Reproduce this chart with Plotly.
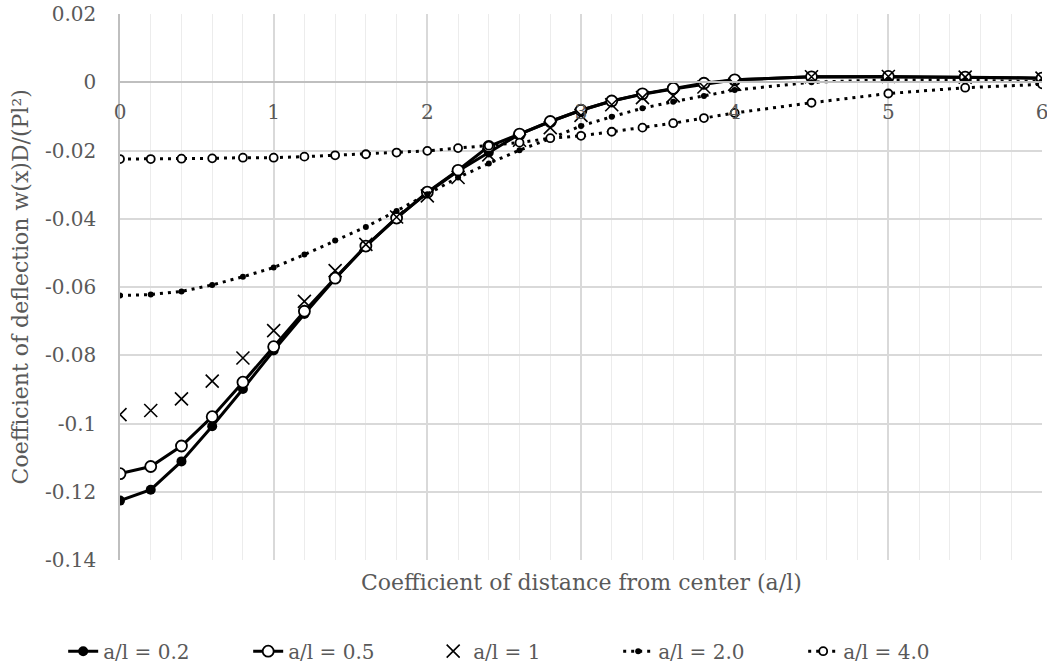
import plotly.graph_objects as go

# Distance coefficient a/l sampled along the plate
x_vals = [0, 0.2, 0.4, 0.6, 0.8, 1.0, 1.2, 1.4, 1.6, 1.8, 2.0, 2.2, 2.4, 2.6, 2.8,
          3.0, 3.2, 3.4, 3.6, 3.8, 4.0, 4.5, 5.0, 5.5, 6.0]

# Deflection coefficients w(x)D/(Pl^2) for each load ratio
w_02 = [-0.1226, -0.1194, -0.1111, -0.1008, -0.0899, -0.0786, -0.0679, -0.0576, -0.0480,
        -0.0397, -0.0324, -0.0260, -0.0206, -0.0152, -0.0115, -0.0082, -0.0055, -0.0035,
        -0.0020, -0.0006, 0.0007, 0.0016, 0.0016, 0.0015, 0.0012]
w_05 = [-0.1147, -0.1126, -0.1066, -0.0980, -0.0879, -0.0775, -0.0671, -0.0574, -0.0480,
        -0.0398, -0.0322, -0.0258, -0.0188, -0.0152, -0.0115, -0.0082, -0.0055, -0.0034,
        -0.0018, -0.0003, 0.0007, 0.0016, 0.0017, 0.0015, 0.0012]
w_1 = [-0.0974, -0.0962, -0.0928, -0.0876, -0.0808, -0.0728, -0.0642, -0.0552, -0.0475,
       -0.0395, -0.0333, -0.0279, -0.0213, -0.0170, -0.0133, -0.0097, -0.0066, -0.0045,
       -0.0040, -0.0014, -0.0006, 0.0016, 0.0017, 0.0015, 0.0012]
w_2 = [-0.0625, -0.0622, -0.0613, -0.0594, -0.0570, -0.0543, -0.0505, -0.0464, -0.0424,
       -0.0377, -0.0328, -0.0279, -0.0238, -0.0199, -0.0165, -0.0128, -0.0101, -0.0076,
       -0.0057, -0.0040, -0.0023, 0.0000, 0.0007, 0.0006, 0.0002]
w_4 = [-0.0225, -0.0225, -0.0224, -0.0223, -0.0221, -0.0221, -0.0218, -0.0214, -0.0211,
       -0.0206, -0.0201, -0.0193, -0.0186, -0.0177, -0.0164, -0.0157, -0.0145, -0.0133,
       -0.0120, -0.0105, -0.0090, -0.0060, -0.0033, -0.0016, -0.0006]

x_ticks = [0, 1, 2, 3, 4, 5, 6]
y_ticks = [0.02, 0, -0.02, -0.04, -0.06, -0.08, -0.1, -0.12, -0.14]
y_ticktext = ["0.02", "0", "-0.02", "-0.04", "-0.06", "-0.08", "-0.1", "-0.12", "-0.14"]

FONT = "DejaVu Serif"
GREY = "#595959"

fig = go.Figure()

fig.add_trace(go.Scatter(
    x=x_vals, y=w_02, name="a/l = 0.2", mode="lines+markers",
    line=dict(color="black", width=3),
    marker=dict(symbol="circle", size=10, color="black"),
))
fig.add_trace(go.Scatter(
    x=x_vals, y=w_05, name="a/l = 0.5", mode="lines+markers",
    line=dict(color="black", width=3),
    marker=dict(symbol="circle", size=11, color="white", line=dict(color="black", width=1.8)),
))
fig.add_trace(go.Scatter(
    x=x_vals, y=w_1, name="a/l = 1", mode="markers",
    marker=dict(symbol="x-thin", size=13, line=dict(color="black", width=1.6)),
))
fig.add_trace(go.Scatter(
    x=x_vals, y=w_2, name="a/l = 2.0", mode="lines+markers",
    line=dict(color="black", width=3, dash="3px,5px"),
    marker=dict(symbol="circle", size=6, color="black"),
))
fig.add_trace(go.Scatter(
    x=x_vals, y=w_4, name="a/l = 4.0", mode="lines+markers",
    line=dict(color="black", width=3, dash="3px,5px"),
    marker=dict(symbol="circle", size=8, color="white", line=dict(color="black", width=1.8)),
))

y_min, y_max = -0.14, 0.02

fig.update_layout(
    width=1047, height=664,
    margin=dict(l=120, r=5, t=14, b=104, autoexpand=False),
    paper_bgcolor="white", plot_bgcolor="white",
    font=dict(family=FONT, size=20, color=GREY),
    showlegend=True,
    legend=dict(
        orientation="h", x=0.44, xanchor="center", y=-0.167, yanchor="middle",
        yref="paper", font=dict(size=20, color=GREY),
        entrywidth=140, entrywidthmode="pixels",
        traceorder="normal",
    ),
    xaxis=dict(
        range=[0, 6], tickvals=x_ticks, ticktext=[str(v) for v in x_ticks],
        anchor="free", position=(0 - y_min) / (y_max - y_min),
        showline=True, linecolor="#bfbfbf", linewidth=1.5,
        ticks="outside", ticklen=12, tickcolor="rgba(0,0,0,0)",
        showgrid=True, gridcolor="#d9d9d9", gridwidth=1.5,
        minor=dict(dtick=0.2, showgrid=True, gridcolor="#ececec", gridwidth=1),
        zeroline=False, tickfont=dict(size=20, color=GREY), automargin=False,
        ticklabeloverflow="allow",
    ),
    yaxis=dict(
        range=[y_min, y_max], tickvals=y_ticks, ticktext=y_ticktext,
        showline=True, linecolor="#bfbfbf", linewidth=1.5,
        showgrid=True, gridcolor="#d9d9d9", gridwidth=1.5,
        zeroline=False, ticks="outside", ticklen=18, tickcolor="rgba(0,0,0,0)",
        tickfont=dict(size=20, color=GREY), automargin=False,
    ),
    annotations=[
        dict(text="Coefficient of distance from center (a/l)", xref="paper", yref="paper",
             x=0.5, y=-0.042, xanchor="center", yanchor="middle", showarrow=False,
             font=dict(size=22, color=GREY)),
        dict(text="Coefficient of deflection w(x)D/(Pl²)", xref="paper", yref="paper",
             x=-0.108, y=0.5, xanchor="center", yanchor="middle", textangle=-90,
             showarrow=False, font=dict(size=22, color=GREY)),
    ],
)

fig.write_html("out.html")
